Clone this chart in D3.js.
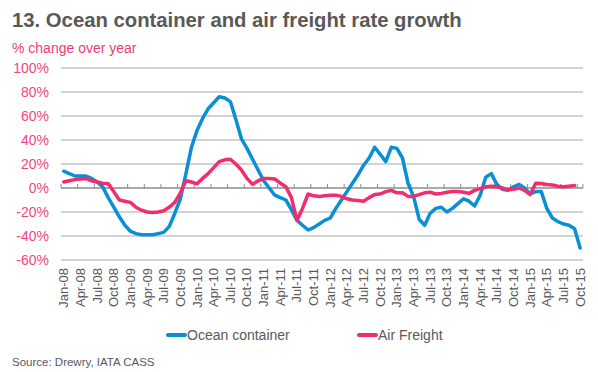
<!DOCTYPE html>
<html>
<head>
<meta charset="utf-8">
<script src="https://cdn.jsdelivr.net/npm/d3@7"></script>
<style>
  body { margin: 0; background: #fff; }
  text { font-family: Arial, "Liberation Sans", sans-serif; }
</style>
</head>
<body>
<script>
'use strict';

// month categories, Jan-08 .. Oct-15
var years = ['08', '09', '10', '11', '12', '13', '14', '15'];
var monthNames = ['Jan', 'Feb', 'Mar', 'Apr', 'May', 'Jun', 'Jul', 'Aug', 'Sep', 'Oct', 'Nov', 'Dec'];
var months = [];
years.forEach(function(y) {
  monthNames.forEach(function(m) { months.push(m + '-' + y); });
});
months = months.slice(0, 94);

// % change over year
var ocean = [
  14, 12, 10, 10, 10, 8, 5, 1, -8, -16, -24, -31,
  -36, -38, -39, -39, -39, -38, -37, -32, -21, -9, 12, 34,
  48, 58, 66, 71, 76, 75, 72, 57, 41, 33, 24, 15,
  6, 0, -6, -8, -10, -18, -27, -31, -35, -33, -30, -27,
  -25, -17, -10, -3, 4, 11, 19, 25, 34, 28, 22, 34,
  33, 25, 4, -7, -26, -31, -21, -17, -16, -20, -17, -13,
  -9, -11, -15, -6, 9, 12, 3, -1, -2, 1, 3, 0,
  -5, -3, -3, -17, -25, -28, -30, -31, -34, -50
];
var air = [
  5, 6, 7, 7.5, 8, 6, 5, 4, 3.5, -3, -10, -11,
  -12, -16, -18.5, -20, -20.5, -20, -19, -16, -12, -4, 6, 5,
  3.5, 8, 12, 17, 22, 23.5, 24, 20, 15, 8, 3, 6,
  8, 8, 7.5, 4, 1, -8, -27, -17, -5, -6.5, -7, -6.5,
  -6, -6, -7, -9, -10, -10.5, -11, -8, -5.5, -5, -3, -2,
  -4, -4, -7, -7, -5.5, -4, -3.5, -5, -4.5, -3.5, -3, -3,
  -3.5, -4.5, -2, -0.5, 1, 1.5, 1, 0, -1.5, -1, 0, -2,
  -5.5, 4, 3.7, 3, 2.5, 1.5, 1, 1.5, 2, null
];
var yTicks = [-60, -40, -20, 0, 20, 40, 60, 80, 100];
var seriesNames = ['Ocean container', 'Air Freight'];

var width = 598;
var height = 372;
var margin = { left: 61, right: 15, top: 68, bottom: 110 };
var blue = '#0a8fd6';
var pink = '#f22d6e';
var grey = '#595959';

var svg = d3.select('body').append('svg')
  .attr('width', width)
  .attr('height', height);

var x = d3.scaleBand()
  .domain(months)
  .range([margin.left, width - margin.right - 0.1]);

var y = d3.scaleLinear()
  .domain([-60, 100])
  .range([260, 68]);

// title and subtitle
svg.append('text')
  .attr('x', 12).attr('y', 27)
  .style('font-size', '20.3px')
  .style('font-weight', 'bold')
  .style('fill', grey)
  .text('13. Ocean container and air freight rate growth');

svg.append('text')
  .attr('x', 12).attr('y', 53)
  .style('font-size', '14px')
  .style('fill', '#f23a79')
  .text('% change over year');

// gridlines
svg.append('g')
  .selectAll('line')
  .data(yTicks.filter(function(d) { return d !== 0; }))
  .enter().append('line')
  .attr('x1', margin.left)
  .attr('x2', x.range()[1])
  .attr('y1', function(d) { return y(d); })
  .attr('y2', function(d) { return y(d); })
  .attr('stroke', '#c4c4c4')
  .attr('stroke-width', 1.3);

// y labels
var yAxis = d3.axisLeft(y)
  .tickValues(yTicks)
  .tickSize(0)
  .tickPadding(12)
  .tickFormat(function(d) { return d + '%'; });

svg.append('g')
  .attr('transform', 'translate(' + margin.left + ',0)')
  .call(yAxis)
  .call(function(g) { g.select('.domain').remove(); })
  .selectAll('text')
  .style('font-size', '14px')
  .style('font-family', 'Arial, "Liberation Sans", sans-serif')
  .style('fill', '#f5447f');

// zero line with tick marks on category boundaries
svg.append('line')
  .attr('x1', margin.left)
  .attr('x2', x.range()[1])
  .attr('y1', y(0)).attr('y2', y(0))
  .attr('stroke', '#8c8c8c')
  .attr('stroke-width', 1.3);

svg.append('g')
  .selectAll('line')
  .data(months.filter(function(d, i) { return i % 3 === 0; }).concat(['end']))
  .enter().append('line')
  .attr('x1', function(d) { return d === 'end' ? x.range()[1] : x(d); })
  .attr('x2', function(d) { return d === 'end' ? x.range()[1] : x(d); })
  .attr('y1', y(0) - 4)
  .attr('y2', y(0))
  .attr('stroke', '#8c8c8c')
  .attr('stroke-width', 1);

// x labels, every 3rd month, rotated
svg.append('g')
  .selectAll('text')
  .data(months.filter(function(d, i) { return i % 3 === 0; }))
  .enter().append('text')
  .attr('transform', function(d) {
    return 'translate(' + (x(d) + x.bandwidth() / 2 + 4.5) + ',268)rotate(-90)';
  })
  .attr('text-anchor', 'end')
  .style('font-size', '13px')
  .style('fill', grey)
  .text(function(d) { return d; });

// lines
var line = d3.line()
  .defined(function(d) { return d != null; })
  .x(function(d, i) { return x(months[i]) + x.bandwidth() / 2; })
  .y(function(d) { return y(d); });

[[ocean, blue], [air, pink]].forEach(function(s) {
  svg.append('path')
    .datum(s[0])
    .attr('d', line)
    .attr('fill', 'none')
    .attr('stroke', s[1])
    .attr('stroke-width', 3.5)
    .attr('stroke-linejoin', 'round')
    .attr('stroke-linecap', 'round');
});

// legend
var legendX = [168, 359];
var legend = svg.selectAll('g.legend')
  .data(seriesNames)
  .enter().append('g')
  .attr('class', 'legend')
  .attr('transform', function(d, i) { return 'translate(' + legendX[i] + ',335)'; });

legend.append('line')
  .attr('x1', 0).attr('x2', 17)
  .attr('y1', 0).attr('y2', 0)
  .attr('stroke', function(d, i) { return i === 0 ? blue : pink; })
  .attr('stroke-width', 4)
  .attr('stroke-linecap', 'round');

legend.append('text')
  .attr('x', 19).attr('y', 5)
  .style('font-size', '14px')
  .style('fill', grey)
  .text(function(d) { return d; });

svg.append('text')
  .attr('x', 12).attr('y', 366)
  .style('font-size', '11.5px')
  .style('fill', grey)
  .text('Source: Drewry, IATA CASS');
</script>
</body>
</html>
